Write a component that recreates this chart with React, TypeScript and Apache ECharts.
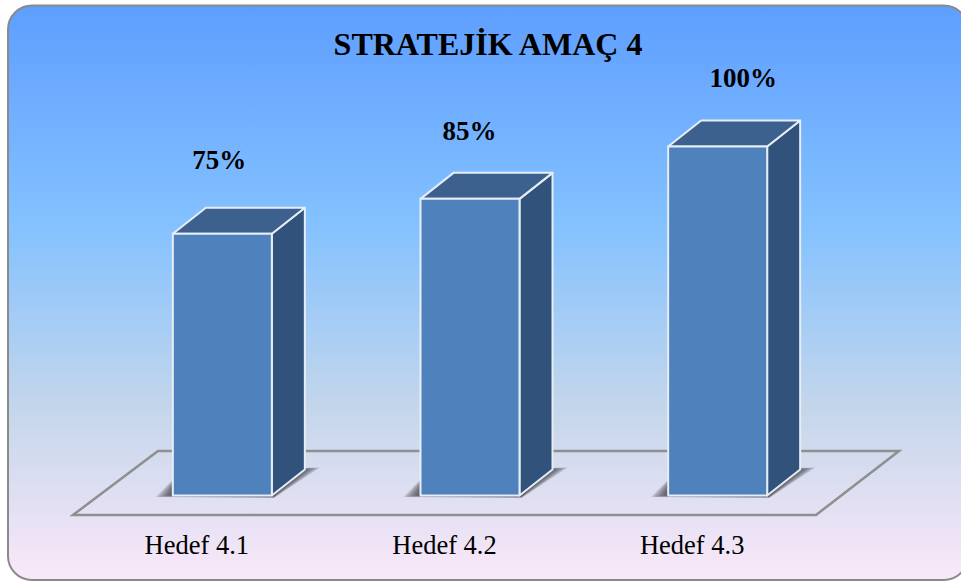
import React, { useEffect, useRef } from "react";
import * as echarts from "echarts";

const categories = ["Hedef 4.1", "Hedef 4.2", "Hedef 4.3"];
const values = [75, 85, 100];
const valueLabels = ["75%", "85%", "100%"];
const titleText = "STRATEJİK AMAÇ 4";

const SERIF = '"Liberation Serif", "Times New Roman", serif';
const BAR_W = 99;
const DX = 33;
const DY = 26;
const BAR_SHIFT = 25.5;
const labelNudge = [[-3, -73.5], [-0.5, -68], [25.5, -68.5]];
const SHADOW_LAYERS = 6;

export default function App() {
  const ref = useRef<HTMLDivElement>(null);
  useEffect(() => {
    const chart = echarts.init(ref.current!, undefined, { renderer: "svg" });
    const edge = "#e6edf5";
    chart.setOption({
      animation: false,
      title: {
        text: titleText,
        left: 483,
        top: 23,
        textAlign: "center",
        textStyle: { fontFamily: SERIF, fontWeight: "bold", fontSize: 32, color: "#000" },
      },
      graphic: [
        {
          type: "rect",
          z: -10,
          shape: { x: 8, y: 5.5, width: 960, height: 574.5, r: 24 },
          style: {
            fill: new echarts.graphic.LinearGradient(0, 0, 0, 1, [
              { offset: 0, color: "#5E9EFF" },
              { offset: 0.39, color: "#85C2FF" },
              { offset: 0.7, color: "#C4D6EB" },
              { offset: 1, color: "#FAE8F9" },
            ]),
            stroke: "#8a8a8a",
            lineWidth: 2,
          },
        },
        {
          type: "polygon",
          z: -5,
          shape: { points: [[73, 515], [816, 515], [899, 451], [158, 451]] },
          style: { fill: "transparent", stroke: "#8f8f8f", lineWidth: 2.5 },
        },
      ],
      grid: { left: 73, top: 146.5, width: 743, height: 349 },
      xAxis: {
        type: "category",
        data: categories,
        axisLine: { show: false },
        axisTick: { show: false },
        axisLabel: { margin: 36, fontFamily: SERIF, fontSize: 26.5, color: "#000" },
      },
      yAxis: { type: "value", min: 0, max: 100, show: false, splitLine: { show: false } },
      series: [
        {
          type: "custom",
          data: values.map((v, i) => [i, v]),
          encode: { x: 0, y: 1 },
          renderItem: (params: any, api: any) => {
            const i = api.value(0);
            const top = api.coord([i, api.value(1)]);
            const base = api.coord([i, 0]);
            const x0 = top[0] + BAR_SHIFT - BAR_W / 2;
            const x1 = x0 + BAR_W;
            const yT = top[1];
            const yB = base[1];
            const border = { stroke: edge, lineWidth: 2, lineJoin: "round" };
            const shadow = [];
            for (let k = 0; k < SHADOW_LAYERS; k++) {
              shadow.push({
                type: "polygon",
                shape: {
                  points: [
                    [x0 - 17 + k * 3, yB + 1.5 - k * 0.3],
                    [x1 + 2, yB + 2.5 - k * 0.3],
                    [x1 + DX + 15 - k * 3, yB - DY - 2 + k * 0.4],
                    [x0 + 10, yB - DY],
                  ],
                },
                style: { fill: "rgba(50,50,55,0.2)" },
              });
            }
            return {
              type: "group",
              children: [
                ...shadow,
                {
                  type: "polygon",
                  shape: { points: [[x1, yT], [x1 + DX, yT - DY], [x1 + DX, yB - DY], [x1, yB]] },
                  style: { fill: "#30527b", ...border },
                },
                {
                  type: "polygon",
                  shape: { points: [[x0, yT], [x0 + DX, yT - DY], [x1 + DX, yT - DY], [x1, yT]] },
                  style: { fill: "#3c618f", ...border },
                },
                {
                  type: "rect",
                  shape: { x: x0, y: yT, width: BAR_W, height: yB - yT },
                  style: { fill: "#4f81bd", ...border },
                },
                {
                  type: "text",
                  style: {
                    text: valueLabels[i],
                    x: x0 + BAR_W / 2 + labelNudge[i][0],
                    y: yT + labelNudge[i][1],
                    textAlign: "center",
                    textVerticalAlign: "middle",
                    font: `bold 27px ${SERIF}`,
                    fill: "#000",
                  },
                },
              ],
            };
          },
        },
      ],
    });
    return () => chart.dispose();
  }, []);
  return <div ref={ref} style={{ position: "absolute", left: 0, top: 0, width: 961, height: 581 }} />;
}
